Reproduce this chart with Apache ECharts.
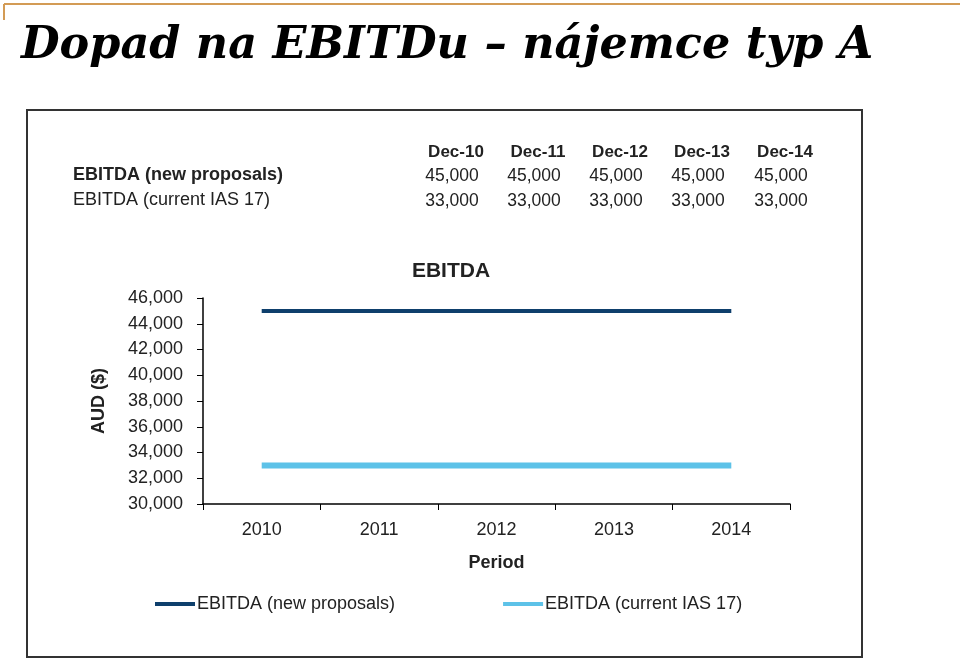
<!DOCTYPE html>
<html><head><meta charset="utf-8">
<script src="https://cdn.jsdelivr.net/npm/echarts@6/dist/echarts.min.js"></script>
<style>html,body{margin:0;padding:0;background:#fff}#c{width:960px;height:661px}</style>
</head><body><div id="c"></div>
<script>
var categories = ['2010','2011','2012','2013','2014'];
var tableHeaders = ['Dec-10','Dec-11','Dec-12','Dec-13','Dec-14'];
var seriesNames = ['EBITDA (new proposals)','EBITDA (current IAS 17)'];
var newProposals = [45000,45000,45000,45000,45000];
var currentIAS = [33000,33000,33000,33000,33000];

var fmt = function(v){ return String(v).replace(/\B(?=(\d{3})+(?!\d))/g, ','); };
var FONT = '"Liberation Sans", Arial, sans-serif';
var colX = [456,538,620,702,785];
var graphics = [
  {type:'line', shape:{x1:4,y1:4,x2:960,y2:4}, style:{stroke:'#D39B55', lineWidth:2}},
  {type:'line', shape:{x1:4,y1:4,x2:4,y2:20}, style:{stroke:'#D39B55', lineWidth:2}},
  {type:'text', left:21, top:24, style:{text:'Dopad na EBITDu \u2013 nájemce typ A', font:'italic bold 44.5px "DejaVu Serif", Georgia, serif', fill:'#000'}},
  {type:'rect', shape:{x:27,y:110,width:835,height:547}, style:{fill:'none', stroke:'#333', lineWidth:2}},
  {type:'text', x:73, y:175, style:{text:seriesNames[0], font:'bold 18px '+FONT, fill:'#222', textVerticalAlign:'middle'}},
  {type:'text', x:73, y:200, style:{text:seriesNames[1], font:'18px '+FONT, fill:'#222', textVerticalAlign:'middle'}}
];
for (var i=0;i<tableHeaders.length;i++){
  graphics.push({type:'text', x:colX[i], y:152, style:{text:tableHeaders[i], font:'bold 17px '+FONT, fill:'#222', textAlign:'center', textVerticalAlign:'middle'}});
  graphics.push({type:'text', x:colX[i]-4, y:176, style:{text:fmt(newProposals[i]), font:'17.5px '+FONT, fill:'#222', textAlign:'center', textVerticalAlign:'middle'}});
  graphics.push({type:'text', x:colX[i]-4, y:201, style:{text:fmt(currentIAS[i]), font:'17.5px '+FONT, fill:'#222', textAlign:'center', textVerticalAlign:'middle'}});
}

var chart = echarts.init(document.getElementById('c'));
chart.setOption({
  animation:false,
  title:{text:'EBITDA', left:446, top:256, textAlign:'center', textStyle:{fontFamily:FONT, fontWeight:'bold', fontSize:21, color:'#222'}},
  grid:{left:203, right:170, top:298, bottom:157},
  legend:{
    top:590, left:150, itemGap:108, itemWidth:40, itemHeight:4, icon:'rect',
    textStyle:{fontFamily:FONT, fontSize:18, color:'#222', padding:[0,0,0,-3]},
    data:seriesNames
  },
  xAxis:{
    type:'category', data:categories, boundaryGap:true,
    name:'Period', nameLocation:'middle', nameGap:50,
    nameTextStyle:{fontFamily:FONT, fontWeight:'bold', fontSize:18, color:'#222'},
    axisLine:{lineStyle:{color:'#000', width:1.5}},
    axisTick:{show:true, length:6, lineStyle:{color:'#000'}},
    axisLabel:{fontFamily:FONT, fontSize:18, color:'#222', margin:17},
    splitLine:{show:false}
  },
  yAxis:{
    type:'value', min:30000, max:46000, interval:2000,
    name:'AUD ($)', nameLocation:'middle', nameGap:95, nameRotate:90,
    nameTextStyle:{fontFamily:FONT, fontWeight:'bold', fontSize:18, color:'#222'},
    axisLine:{show:true, lineStyle:{color:'#000', width:1.5}},
    axisTick:{show:true, length:6, lineStyle:{color:'#000'}},
    axisLabel:{fontFamily:FONT, fontSize:18, color:'#222', margin:20, formatter:fmt},
    splitLine:{show:false}
  },
  series:[
    {name:seriesNames[0], type:'line', data:newProposals, symbol:'none', lineStyle:{color:'#0E3F6C', width:4}, itemStyle:{color:'#0E3F6C'}},
    {name:seriesNames[1], type:'line', data:currentIAS, symbol:'none', lineStyle:{color:'#5DC2E8', width:6}, itemStyle:{color:'#5DC2E8'}}
  ],
  graphic:graphics
});
</script></body></html>
